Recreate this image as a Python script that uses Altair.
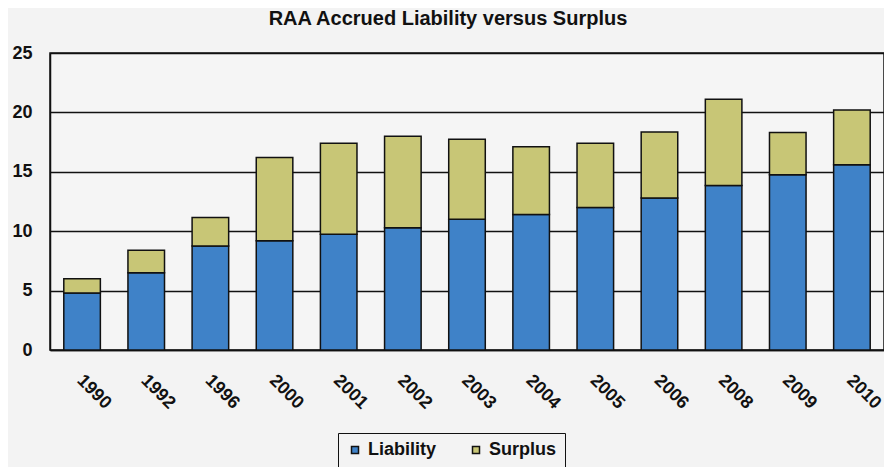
import altair as alt
import pandas as pd

years = ["1990", "1992", "1996", "2000", "2001", "2002", "2003", "2004", "2005", "2006", "2008", "2009", "2010"]
liability = [4.8, 6.5, 8.75, 9.2, 9.75, 10.3, 11.0, 11.4, 12.0, 12.8, 13.85, 14.75, 15.6]
surplus = [1.2, 1.9, 2.4, 7.0, 7.65, 7.7, 6.75, 5.7, 5.4, 5.55, 7.25, 3.55, 4.6]
series = ["Liability", "Surplus"]
colors = ["#3f82c8", "#c8c676"]

rows = []
for y, l, s in zip(years, liability, surplus):
    rows.append({"year": y, "series": series[0], "value": l, "ord": 0})
    rows.append({"year": y, "series": series[1], "value": s, "ord": 1})
df = pd.DataFrame(rows)

font = "Liberation Sans"

chart = alt.Chart(df).mark_bar(stroke="#111", strokeWidth=1.5).encode(
    x=alt.X("year:N", sort=years, title=None,
            scale=alt.Scale(paddingInner=0.43, paddingOuter=0.215),
            axis=alt.Axis(labelAngle=45, labelFontSize=18, labelFontWeight="bold",
                          labelColor="#111", labelFont=font, ticks=False, domain=True,
                          domainColor="#111", domainWidth=1.5, labelPadding=21, labelOffset=4)),
    y=alt.Y("value:Q", stack="zero", title=None,
            scale=alt.Scale(domain=[0, 25], nice=False),
            axis=alt.Axis(values=[0, 5, 10, 15, 20, 25], labelFontSize=18, labelFontWeight="bold",
                          labelColor="#111", labelFont=font, ticks=False, grid=True,
                          gridColor="#111", gridWidth=1.5, domainColor="#111", domainWidth=1.5,
                          labelPadding=18)),
    color=alt.Color("series:N", sort=series, scale=alt.Scale(domain=series, range=colors),
                    legend=alt.Legend(title=None, orient="none", legendX=288, legendY=380,
                                      direction="horizontal", strokeColor="#111", padding=8,
                                      symbolType="square", symbolSize=49, symbolStrokeColor="#111",
                                      symbolStrokeWidth=1.5, labelFontSize=18, labelFontWeight="bold",
                                      labelFont=font, labelColor="#111", columnPadding=30,
                                      labelOffset=4)),
    order=alt.Order("ord:Q", sort="ascending"),
).properties(
    width=834, height=297,
    title=alt.TitleParams("RAA Accrued Liability versus Surplus", fontSize=20, fontWeight="bold",
                          font=font, color="#111", anchor="middle", frame="bounds", offset=15),
    autosize=alt.AutoSizeParams(type="none"),
    padding={"left": 42, "top": 45, "right": 0, "bottom": 117},
    background="#f3f3f3",
).configure_view(stroke="#111", strokeWidth=1.5, fill="#f5f5f5")

chart.save("out.html", embed_options={"renderer": "svg", "actions": False})
